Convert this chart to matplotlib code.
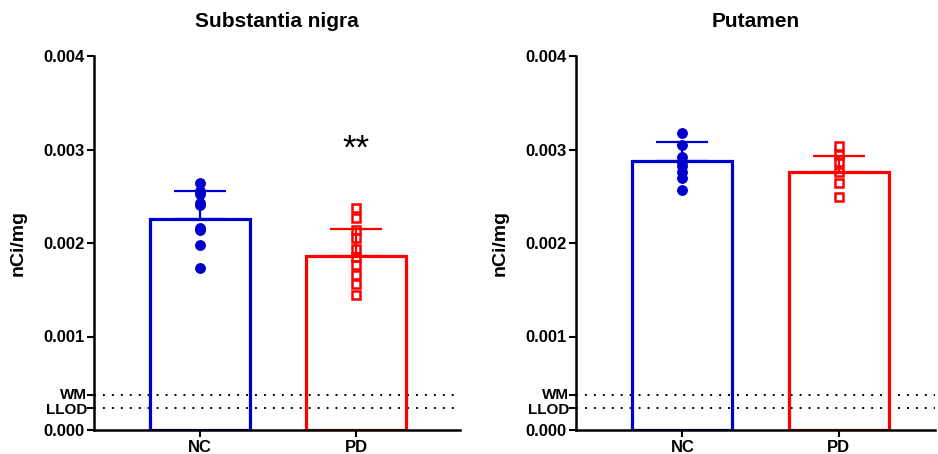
import matplotlib
matplotlib.use('Agg')
import matplotlib.pyplot as plt
from matplotlib.transforms import blended_transform_factory, offset_copy

# --- data ---
groups = ['NC', 'PD']
titles = ['Substantia nigra', 'Putamen']

sn_nc = [0.00264, 0.00256, 0.00252, 0.00243, 0.00241, 0.00216, 0.00214, 0.00198, 0.00173]
sn_pd = [0.00237, 0.00227, 0.00214, 0.00205, 0.00194, 0.00185, 0.00177, 0.00166, 0.00156, 0.00144]
pu_nc = [0.00318, 0.00305, 0.00292, 0.00287, 0.00282, 0.00276, 0.00269, 0.00257]
pu_pd = [0.00304, 0.00294, 0.00287, 0.00276, 0.00264, 0.00249]

sn_mean = [0.00226, 0.00186]
sn_sd = [0.00030, 0.00029]
pu_mean = [0.00288, 0.00276]
pu_sd = [0.00020, 0.00017]

wm_level = 0.000374
llod_level = 0.000236

yticks = [0.0, llod_level, wm_level, 0.001, 0.002, 0.003, 0.004]
ytick_labels = ['0.000', '', '', '0.001', '0.002', '0.003', '0.004']

BLUE = '#0000CC'
RED = '#FF0000'
FONT = 'Liberation Sans'

plt.rcParams['font.family'] = [FONT, 'DejaVu Sans']
plt.rcParams['font.weight'] = 'bold'


def draw_panel(fig, ax, title, nc_vals, pd_vals, means, sds, xmax, label_px, stars=None):
	colors = [BLUE, RED]
	ax.bar([0, 1], means, width=0.64, facecolor='none', edgecolor=colors,
		linewidth=2.3, zorder=2)
	for i in range(2):
		ax.errorbar(i, means[i], yerr=[[0], [sds[i]]], color=colors[i],
			elinewidth=1.6, capsize=19, capthick=1.6, zorder=3)
	ax.plot([0] * len(nc_vals), nc_vals, 'o', color=BLUE, markersize=6.8,
		linestyle='none', zorder=4)
	ax.plot([1] * len(pd_vals), pd_vals, 's', markerfacecolor='none',
		markeredgecolor=RED, markeredgewidth=1.8, markersize=6.3,
		linestyle='none', zorder=4)

	for lvl in (wm_level, llod_level):
		ax.axhline(lvl, color='black', linewidth=1.4, linestyle=(0, (1, 3.6)), zorder=1)

	# WM / LLOD labels sit very close, so place them by hand
	blend = blended_transform_factory(ax.transAxes, ax.transData)
	ax.text(0, wm_level, 'WM', ha='right', va='baseline', fontsize=11,
		fontweight='bold', transform=offset_copy(blend, fig=fig, x=-5, y=-2.6, units='points'))
	ax.text(0, llod_level, 'LLOD', ha='right', va='baseline', fontsize=11,
		fontweight='bold', transform=offset_copy(blend, fig=fig, x=-5, y=-4.6, units='points'))

	if stars:
		ax.text(1, 0.00300, stars, ha='center', va='center', fontsize=25,
			fontweight='normal')

	ax.set_xlim(-0.68, xmax)
	ax.set_ylim(0, 0.004)
	ax.set_xticks([0, 1])
	ax.set_xticklabels(groups, fontsize=12, fontweight='bold')
	ax.set_yticks(yticks)
	ax.set_yticklabels(ytick_labels, fontsize=12, fontweight='bold')
	ax.tick_params(axis='both', direction='out', length=5, width=1.5, pad=2)
	ax.set_ylabel('nCi/mg', fontsize=14, fontweight='bold')
	# right edge of the rotated axis label at a fixed pixel column
	bbox = ax.get_position()
	ax.yaxis.set_label_coords((label_px / 938 - bbox.x0) / bbox.width, 0.5)
	ax.set_title(title, fontsize=15, fontweight='bold', pad=21)
	for side in ('top', 'right'):
		ax.spines[side].set_visible(False)
	for side in ('left', 'bottom'):
		ax.spines[side].set_linewidth(1.8)


fig = plt.figure(figsize=(9.38, 4.54), dpi=100)
ax1 = fig.add_axes([94 / 938, 24 / 454, 366 / 938, 374 / 454])
ax2 = fig.add_axes([576 / 938, 24 / 454, 359 / 938, 374 / 454])

draw_panel(fig, ax1, titles[0], sn_nc, sn_pd, sn_mean, sn_sd, 1.667, 27, stars='**')
draw_panel(fig, ax2, titles[1], pu_nc, pu_pd, pu_mean, pu_sd, 1.615, 509)

fig.savefig('out.png', dpi=100)
